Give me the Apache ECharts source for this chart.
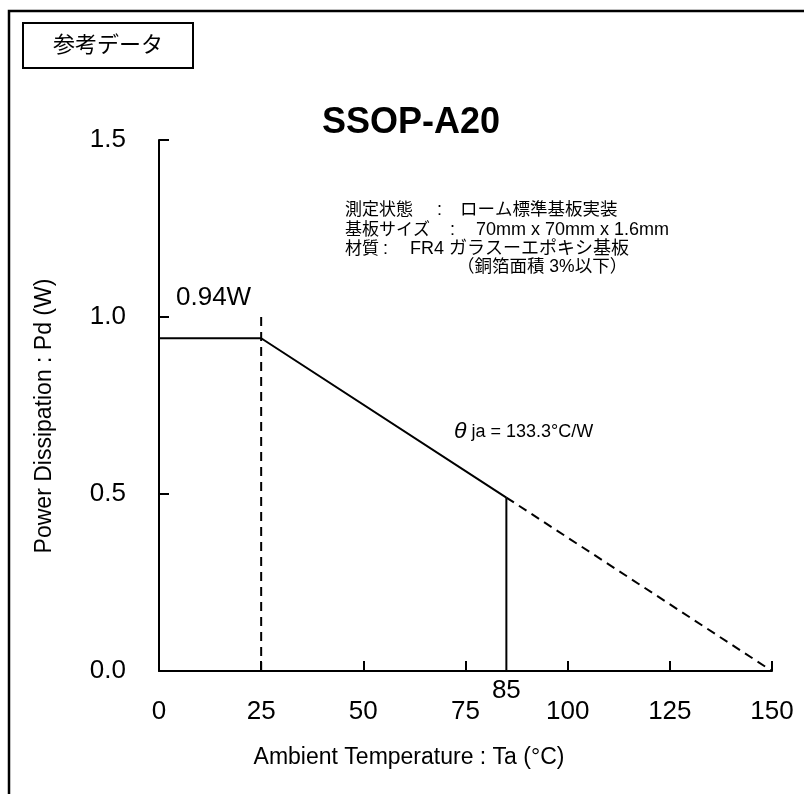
<!DOCTYPE html>
<html>
<head>
<meta charset="utf-8">
<script src="https://cdn.jsdelivr.net/npm/echarts@6/dist/echarts.min.js"></script>
<style>
  html, body { margin: 0; padding: 0; background: #fff; }
  #main { width: 804px; height: 794px; }
</style>
</head>
<body>
<div id="main"></div>
<script>
  var FONT = "'Liberation Sans', Arial, 'Noto Sans CJK JP', sans-serif"

  // 軸の目盛り
  var xTicks = [0, 25, 50, 75, 100, 125, 150]
  var yTicks = [0, 0.5, 1.0, 1.5]

  // 許容損失の曲線（Ta, Pd）
  var deratingSolid = [[0, 0.94], [25, 0.94], [85, 0.49]]
  var deratingDashed = [[85, 0.49], [150, 0]]
  var line25 = [[25, 0], [25, 1.0]]
  var line85 = [[85, 0], [85, 0.49]]
  var markTa = [[85, 0]]

  var chart = echarts.init(document.getElementById("main"))

  function txt(x, y, text, size, extra) {
    return {
      type: "text",
      x: x,
      y: y,
      style: Object.assign({
        text: text,
        fill: "#000",
        font: size + "px " + FONT,
        verticalAlign: "middle"
      }, extra || {})
    }
  }

  var option = {
    animation: false,
    backgroundColor: "#fff",
    grid: { left: 159, right: 32, top: 140, bottom: 123 },
    xAxis: {
      type: "value",
      min: xTicks[0],
      max: xTicks[xTicks.length - 1],
      interval: 25,
      splitLine: { show: false },
      axisLine: { show: true, lineStyle: { color: "#000", width: 2 } },
      axisTick: { show: true, inside: true, length: 10, lineStyle: { color: "#000", width: 2 } },
      axisLabel: { color: "#000", fontSize: 26, fontFamily: FONT, margin: 28 }
    },
    yAxis: {
      type: "value",
      min: yTicks[0],
      max: yTicks[yTicks.length - 1],
      interval: 0.5,
      splitLine: { show: false },
      axisLine: { show: true, lineStyle: { color: "#000", width: 2 } },
      axisTick: { show: true, inside: true, length: 10, lineStyle: { color: "#000", width: 2 } },
      axisLabel: {
        color: "#000", fontSize: 26, fontFamily: FONT, margin: 33,
        formatter: function (v) { return v.toFixed(1) }
      }
    },
    series: [
      {
        type: "line", data: deratingSolid, symbol: "none", clip: false,
        lineStyle: { color: "#000", width: 2 }
      },
      {
        type: "line", data: deratingDashed, symbol: "none", clip: false,
        lineStyle: { color: "#000", width: 2, type: [9, 6] }
      },
      {
        type: "line", data: line25, symbol: "none", clip: false,
        lineStyle: { color: "#000", width: 2, type: [9, 6] }
      },
      {
        type: "line", data: line85, symbol: "none", clip: false,
        lineStyle: { color: "#000", width: 2 }
      },
      {
        // 85℃ の値ラベル
        type: "scatter", data: markTa, symbolSize: 2, clip: false,
        itemStyle: { color: "rgba(0,0,0,0)", opacity: 1 },
        label: {
          show: true, position: "bottom", distance: 6,
          color: "#000", fontSize: 26, fontFamily: FONT,
          formatter: function (p) { return String(p.value[0]) }
        }
      }
    ],
    graphic: [
      // 外枠
      { type: "rect", shape: { x: 9, y: 11, width: 830, height: 820 }, style: { fill: "none", stroke: "#000", lineWidth: 2.5 } },
      { type: "rect", shape: { x: 23, y: 23, width: 170, height: 45 }, style: { fill: "#fff", stroke: "#000", lineWidth: 2 } },
      txt(108, 46, "参考データ", 22, { align: "center" }),
      txt(411, 123, "SSOP-A20", 36, { align: "center", font: "bold 36px " + FONT }),
      txt(345, 210, "測定状態", 17),
      txt(437, 210, ":", 18),
      txt(460, 210, "ローム標準基板実装", 17.5),
      txt(345, 230, "基板サイズ", 17),
      txt(450, 230, ":", 18),
      txt(476, 230, "70mm x 70mm x 1.6mm", 18),
      txt(345, 249, "材質", 17),
      txt(383, 249, ":", 18),
      txt(410, 249, "FR4 ガラスーエポキシ基板", 18),
      txt(457, 267, "（銅箔面積 3%以下）", 17.5),
      txt(176, 298, "0.94W", 26),
      {
        type: "text", x: 454, y: 432,
        style: {
          text: "{th|θ} ja = 133.3°C/W",
          fill: "#000", font: "18px " + FONT, verticalAlign: "middle",
          rich: { th: { fontSize: 23, fontStyle: "italic", fontFamily: FONT, fill: "#000" } }
        }
      },
      txt(409, 758, "Ambient Temperature : Ta (°C)", 23, { align: "center" }),
      {
        type: "text", x: 45, y: 416, rotation: Math.PI / 2,
        style: { text: "Power Dissipation : Pd (W)", fill: "#000", font: "23px " + FONT, align: "center", verticalAlign: "middle" }
      }
    ]
  }

  chart.setOption(option)
</script>
</body>
</html>
